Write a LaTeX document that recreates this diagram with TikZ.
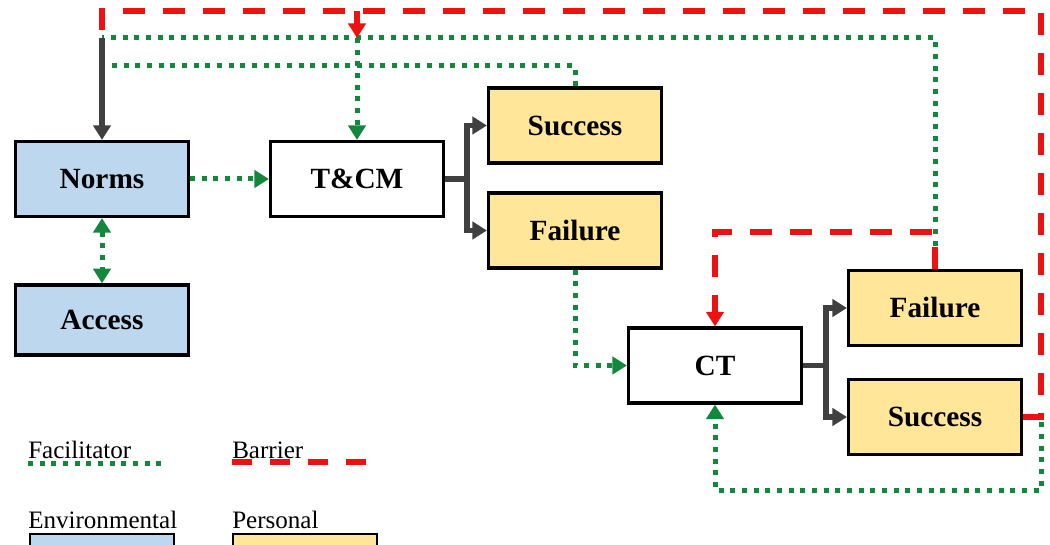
\documentclass[tikz,border=0pt]{standalone}
\usepackage{fontspec}
\setmainfont{Liberation Serif}
\usetikzlibrary{arrows.meta}
\definecolor{envblue}{RGB}{189,215,238}
\definecolor{perfill}{RGB}{255,230,153}
\definecolor{facgreen}{RGB}{20,135,62}
\definecolor{barred}{RGB}{238,17,17}
\definecolor{flowgray}{RGB}{64,64,64}
\begin{document}
\begin{tikzpicture}[x=0.75pt,y=-0.75pt,
 box/.style={draw=black,line width=2.6pt,minimum width=129.5pt,minimum height=56pt,inner sep=0pt,font=\fontsize{22}{24}\selectfont\bfseries},
 env/.style={box,fill=envblue},
 pers/.style={box,fill=perfill},
 plainbox/.style={box,fill=white},
 tip/.style={-{Triangle[length=11pt,width=13pt]}},
 fac/.style={draw=facgreen,line width=3.75pt,dash pattern=on 3.75pt off 5pt},
 facarrow/.style={fac,tip},
 barrier/.style={draw=barred,line width=4.8pt,dash pattern=on 16.5pt off 13.5pt},
 bararrow/.style={barrier,tip},
 flow/.style={draw=flowgray,line width=4.2pt},
 flowarrow/.style={flow,tip},
 legtext/.style={font=\fontsize{18.8}{20}\selectfont,inner sep=0pt,anchor=base west},
 legbox/.style={draw=black,line width=1.5pt,minimum width=108pt,minimum height=20pt,inner sep=0pt,anchor=north west}
]
\useasboundingbox (0,0) rectangle (1050,545);
\clip (0,0) rectangle (1050,545);
\fill[white] (0,0) rectangle (1050,545);

% boxes
\node[env] (Norms) at (102,179) {Norms};
\node[env,minimum height=52.5pt] (Access) at (102,320) {Access};
\node[plainbox] (TCM) at (357,179) {T\&CM};
\node[pers] (Success1) at (575,125.5) {Success};
\node[pers] (Failure1) at (575,230.5) {Failure};
\node[plainbox] (CT) at (715,365.5) {CT};
\node[pers] (Failure2) at (935,308) {Failure};
\node[pers] (Success2) at (935,417) {Success};

% coordinates
\coordinate (gj) at (102,38);
\coordinate (g2) at (102,66);
\coordinate (rTL) at (102,11);
\coordinate (rTR) at (1041,11);
\coordinate (gB) at (1041,490);
\coordinate (rA) at (357,11);
\coordinate (gA) at (357,38);
\coordinate (b1) at (467,179);
\coordinate (b2) at (826,365.5);

% facilitators
\draw[fac] (Failure2.north) |- (gj);
\draw[fac] (Success1.north) |- (g2);
\draw[facarrow] (gA) -- (TCM.north);
\draw[facarrow] (Norms.east) -- (TCM.west);
\draw[fac,{Triangle[length=11pt,width=13pt]}-{Triangle[length=11pt,width=13pt]}] (Norms.south) -- (Access.north);
\draw[facarrow] (Failure1.south) |- (CT.west);
\draw[facarrow] (Success2.east) -| (gB) -| (CT.south);

% barriers
\draw[barrier] (Success2.east) -| (rTR) -- (rTL) -- (gj);
\draw[bararrow] (rA) -- (gA);
\draw[bararrow] (Failure2.north) -- ++(0,-37) -| (CT.north);

% flows
\draw[flowarrow] (gj) -- (Norms.north);
\draw[flow] (TCM.east) -- (b1);
\draw[flowarrow] (b1) |- (Success1.west);
\draw[flowarrow] (b1) |- (Failure1.west);
\draw[flow] (CT.east) -- (b2);
\draw[flowarrow] (b2) |- (Failure2.west);
\draw[flowarrow] (b2) |- (Success2.west);

% legend
\node[legtext] (legF) at (28,458) {Facilitator};
\coordinate (lf1) at (28,463);
\coordinate (lf2) at (163,463);
\draw[fac] (lf1) -- (lf2);
\node[legtext] (legB) at (232,458) {Barrier};
\coordinate (lb1) at (232,462);
\coordinate (lb2) at (366,462);
\draw[barrier,dash pattern=on 15pt off 13.5pt] (lb1) -- (lb2);
\node[legtext] (legE) at (28,528) {Environmental};
\node[legbox,fill=envblue] (legEbox) at (29,533) {};
\node[legtext] (legP) at (232,528) {Personal};
\node[legbox,fill=perfill] (legPbox) at (232,533) {};
\end{tikzpicture}
\end{document}
